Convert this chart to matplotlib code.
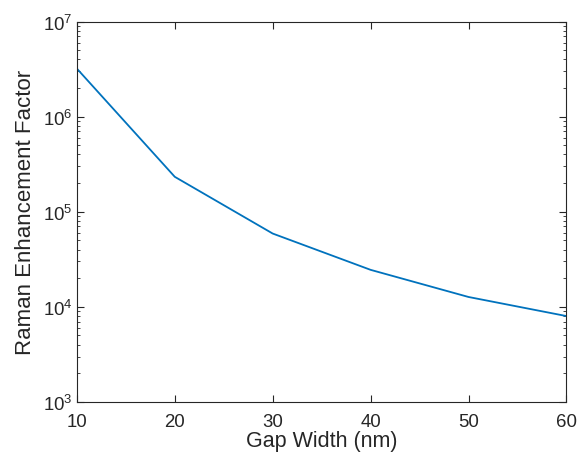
import numpy as np
import matplotlib.pyplot as plt

plt.rcParams['font.family'] = ['Liberation Sans', 'DejaVu Sans']
plt.rcParams['mathtext.fontset'] = 'custom'
plt.rcParams['mathtext.rm'] = 'Liberation Sans'
plt.rcParams['mathtext.it'] = 'Liberation Sans'

# data
gap_nm = [10, 20, 30, 40, 50, 60]
enhancement = [3.2e6, 2.33e5, 5.9e4, 2.45e4, 1.27e4, 8.0e3]

axcol = '#262626'

fig = plt.figure(figsize=(5.78, 4.60), dpi=100)
ax = fig.add_axes([0.133, 0.124, 0.847, 0.827])
ax.plot(gap_nm, enhancement, color='#0072BD', lw=1.3)
ax.set_yscale('log')
ax.set_xlim(10, 60)
ax.set_ylim(1e3, 1e7)
ax.set_xticks([10, 20, 30, 40, 50, 60])
ax.set_yticks([1e3, 1e4, 1e5, 1e6, 1e7])

ax.tick_params(which='both', direction='in', top=True, right=True, colors=axcol,
               labelsize=13.4, labelcolor=axcol)
ax.tick_params(which='major', length=5, width=0.8)
ax.tick_params(which='minor', length=2.5, width=0.6)
ax.tick_params(axis='x', which='minor', top=False, bottom=False)
ax.tick_params(axis='x', which='major', pad=8)
ax.tick_params(axis='y', which='major', pad=3)
for s in ax.spines.values():
    s.set_color(axcol)
    s.set_linewidth(0.8)

ax.set_xlabel('Gap Width (nm)', fontsize=15.5, color=axcol, labelpad=0)
ax.set_ylabel('Raman Enhancement Factor', fontsize=16, color=axcol, labelpad=5)

fig.savefig('out.png', dpi=100)
